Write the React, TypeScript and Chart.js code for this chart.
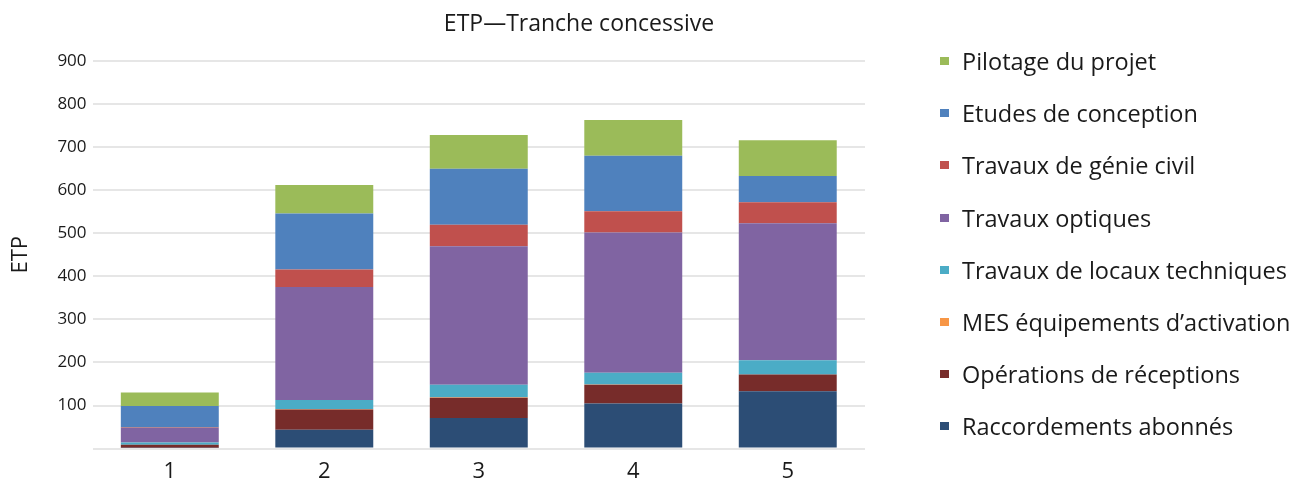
import React, { useEffect, useRef } from "react";
import { Chart, registerables } from "chart.js";

Chart.register(...registerables);

const categories = ["1", "2", "3", "4", "5"];
const raccordements = [2, 44, 71, 105, 133];
const operations = [7, 47, 47, 43, 39];
const mesEquipements = [0, 1, 1, 1, 0];
const locauxTechniques = [5, 21, 29, 27, 33];
const travauxOptiques = [34, 262, 322, 326, 318];
const genieCivil = [1, 41, 50, 49, 49];
const etudes = [50, 130, 130, 129, 61];
const pilotage = [31, 66, 78, 83, 83];

const seriesNames = [
  "Raccordements abonnés",
  "Opérations de réceptions",
  "MES équipements d’activation",
  "Travaux de locaux techniques",
  "Travaux optiques",
  "Travaux de génie civil",
  "Etudes de conception",
  "Pilotage du projet",
];
const seriesValues = [
  raccordements,
  operations,
  mesEquipements,
  locauxTechniques,
  travauxOptiques,
  genieCivil,
  etudes,
  pilotage,
];
const seriesColors = [
  "#2C4D75",
  "#772C2A",
  "#F79646",
  "#4BACC6",
  "#8064A2",
  "#C0504D",
  "#4F81BD",
  "#9BBB59",
];

const yMin = 0;
const yMax = 900;
const yStep = 100;

const titleText = "ETP—Tranche concessive";
const yAxisTitle = "ETP";

const FONT = "'Open Sans', Lato, sans-serif";
const CANVAS_H = 495;

export default function App() {
  const canvasRef = useRef<HTMLCanvasElement | null>(null);

  useEffect(() => {
    document.body.style.margin = "0";
    const canvas = canvasRef.current;
    if (!canvas) return;
    const chart = new Chart(canvas, {
      type: "bar",
      data: {
        labels: categories,
        datasets: seriesNames.map((name, i) => ({
          label: name,
          data: seriesValues[i],
          backgroundColor: seriesColors[i],
          borderWidth: 0,
          categoryPercentage: 1,
          barPercentage: 0.634,
        })),
      },
      options: {
        animation: false,
        responsive: false,
        maintainAspectRatio: false,
        layout: { padding: { left: 4, right: 429, top: 61, bottom: 0 } },
        plugins: {
          legend: { display: false },
          title: { display: false },
          tooltip: { enabled: false },
        },
        scales: {
          x: {
            stacked: true,
            grid: { display: false, drawTicks: false },
            border: { display: false },
            ticks: {
              color: "#1a1a1a",
              font: { family: FONT, size: 22 },
              padding: 10,
            },
          },
          y: {
            stacked: true,
            min: yMin,
            max: yMax,
            grid: { color: "#e6e6e6", lineWidth: 2, drawTicks: false },
            border: { display: false },
            ticks: {
              stepSize: yStep,
              color: "#1a1a1a",
              font: { family: FONT, size: 17 },
              padding: 6,
              callback: (v: any) => (Number(v) === 0 ? "" : String(v)),
            },
            title: {
              display: true,
              text: yAxisTitle,
              color: "#1a1a1a",
              font: { family: FONT, size: 22 },
              padding: { top: 4, bottom: 17 },
            },
          },
        },
      },
    });
    return () => chart.destroy();
  }, []);

  const legendItems = seriesNames
    .map((n, i) => ({ name: n, color: seriesColors[i] }))
    .reverse();

  return (
    <div style={{ position: "relative", width: 1294, height: 479, background: "#fff", overflow: "hidden" }}>
      <canvas ref={canvasRef} width={1294} height={CANVAS_H} style={{ display: "block" }} />
      <div
        style={{
          position: "absolute",
          left: 579,
          top: 7,
          transform: "translateX(-50%)",
          fontFamily: FONT,
          fontSize: 23,
          color: "#1a1a1a",
          whiteSpace: "nowrap",
          lineHeight: "30px",
        }}
      >
        {titleText}
      </div>
      {legendItems.map((it, i) => (
        <div
          key={it.name}
          style={{
            position: "absolute",
            left: 940,
            top: 61 + i * 52.2 - 15,
            height: 30,
            display: "flex",
            alignItems: "center",
            fontFamily: FONT,
            fontSize: 23.5,
            color: "#1a1a1a",
            whiteSpace: "nowrap",
          }}
        >
          <span style={{ display: "inline-block", width: 9, height: 8, background: it.color, marginRight: 13 }} />
          <span>{it.name}</span>
        </div>
      ))}
    </div>
  );
}
